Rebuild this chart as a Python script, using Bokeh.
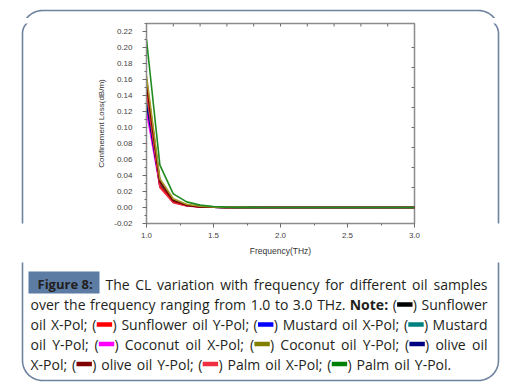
import numpy as np
from bokeh.plotting import figure
from bokeh.layouts import column, row
from bokeh.models import Range1d, SingleIntervalTicker, PrintfTickFormatter
from bokeh.core.properties import value
from bokeh.embed import file_html
from bokeh.resources import INLINE

# ---------------- data ----------------
freq = [1.0, 1.1, 1.2, 1.3, 1.4, 1.5, 1.6, 1.7, 1.8, 1.9, 2.0,
        2.1, 2.2, 2.3, 2.4, 2.5, 2.6, 2.7, 2.8, 2.9, 3.0]

coconut_x   = [0.120, 0.026, 0.0065, 0.0022, 0.0008, 0.0003, 0.0001, 0.0, 0.0, 0.0, 0.0, 0.0, 0.0, 0.0, 0.0, 0.0, 0.0, 0.0, 0.0, 0.0, 0.0]
mustard_x   = [0.135, 0.029, 0.0075, 0.0026, 0.0009, 0.0003, 0.0001, 0.0, 0.0, 0.0, 0.0, 0.0, 0.0, 0.0, 0.0, 0.0, 0.0, 0.0, 0.0, 0.0, 0.0]
olive_x     = [0.130, 0.028, 0.0070, 0.0024, 0.0009, 0.0003, 0.0001, 0.0, 0.0, 0.0, 0.0, 0.0, 0.0, 0.0, 0.0, 0.0, 0.0, 0.0, 0.0, 0.0, 0.0]
mustard_y   = [0.140, 0.030, 0.0080, 0.0028, 0.0010, 0.0004, 0.0001, 0.0, 0.0, 0.0, 0.0, 0.0, 0.0, 0.0, 0.0, 0.0, 0.0, 0.0, 0.0, 0.0, 0.0]
sunflower_y = [0.150, 0.027, 0.0070, 0.0025, 0.0008, 0.0003, 0.0001, 0.0, 0.0, 0.0, 0.0, 0.0, 0.0, 0.0, 0.0, 0.0, 0.0, 0.0, 0.0, 0.0, 0.0]
palm_x      = [0.145, 0.025, 0.0060, 0.0020, 0.0007, 0.0003, 0.0001, 0.0, 0.0, 0.0, 0.0, 0.0, 0.0, 0.0, 0.0, 0.0, 0.0, 0.0, 0.0, 0.0, 0.0]
sunflower_x = [0.160, 0.033, 0.0090, 0.0030, 0.0010, 0.0004, 0.0001, 0.0, 0.0, 0.0, 0.0, 0.0, 0.0, 0.0, 0.0, 0.0, 0.0, 0.0, 0.0, 0.0, 0.0]
olive_y     = [0.155, 0.032, 0.0080, 0.0030, 0.0010, 0.0004, 0.0001, 0.0, 0.0, 0.0, 0.0, 0.0, 0.0, 0.0, 0.0, 0.0, 0.0, 0.0, 0.0, 0.0, 0.0]
coconut_y   = [0.165, 0.036, 0.0110, 0.0040, 0.0015, 0.0006, 0.0002, 0.0001, 0.0, 0.0, 0.0, 0.0, 0.0, 0.0, 0.0, 0.0, 0.0, 0.0, 0.0, 0.0, 0.0]
palm_y      = [0.210, 0.053, 0.0170, 0.0070, 0.0030, 0.0012, 0.0005, 0.0002, 0.0001, 0.0, 0.0, 0.0, 0.0, 0.0, 0.0, 0.0, 0.0, 0.0, 0.0, 0.0, 0.0]

# draw order (bottom to top)
series_names = ["Coconut oil X-Pol", "Mustard oil X-Pol", "olive oil X-Pol", "Mustard oil Y-Pol",
                "Sunflower oil Y-Pol", "Palm oil X-Pol", "Sunflower oil X-Pol", "olive oil Y-Pol",
                "Coconut oil Y-Pol", "Palm oil Y-Pol"]
series_values = [coconut_x, mustard_x, olive_x, mustard_y, sunflower_y, palm_x, sunflower_x,
                 olive_y, coconut_y, palm_y]
series_colors = {"Sunflower oil X-Pol": "#000000", "Sunflower oil Y-Pol": "#ff0000",
                 "Mustard oil X-Pol": "#0000ff", "Mustard oil Y-Pol": "#008080",
                 "Coconut oil X-Pol": "#ff00ff", "Coconut oil Y-Pol": "#808000",
                 "olive oil X-Pol": "#000080", "olive oil Y-Pol": "#800000",
                 "Palm oil X-Pol": "#ee3040", "Palm oil Y-Pol": "#008000"}
chart_colors = dict(series_colors)
chart_colors["Coconut oil Y-Pol"] = "#a89a28"
chart_colors["Palm oil Y-Pol"] = "#1f8a1f"

top_ticks = [1.2, 1.4, 1.6, 1.8, 2.0, 2.2, 2.4, 2.6, 2.8]
right_ticks = [0.0, 0.025, 0.05, 0.075, 0.1, 0.125, 0.15, 0.175, 0.2]

x_label = "Frequency(THz)"
y_label = "Confinement Loss(dB/m)"

# caption: ("w", word) plain, ("b", word) bold, ("d", series) colour key "(▬)"
caption_title = "Figure 8:"
caption_lines = [
    [("w", w) for w in "The CL variation with frequency for different oil samples".split()],
    [("w", w) for w in "over the frequency ranging from 1.0 to 3.0 THz.".split()]
    + [("b", "Note:"), ("d", "Sunflower oil X-Pol"), ("w", "Sunflower")],
    [("w", "oil"), ("w", "X-Pol;"), ("d", "Sunflower oil Y-Pol"), ("w", "Sunflower"), ("w", "oil"),
     ("w", "Y-Pol;"), ("d", "Mustard oil X-Pol"), ("w", "Mustard"), ("w", "oil"), ("w", "X-Pol;"),
     ("d", "Mustard oil Y-Pol"), ("w", "Mustard")],
    [("w", "oil"), ("w", "Y-Pol;"), ("d", "Coconut oil X-Pol"), ("w", "Coconut"), ("w", "oil"),
     ("w", "X-Pol;"), ("d", "Coconut oil Y-Pol"), ("w", "Coconut"), ("w", "oil"), ("w", "Y-Pol;"),
     ("d", "olive oil X-Pol"), ("w", "olive"), ("w", "oil")],
    [("w", "X-Pol;"), ("d", "olive oil Y-Pol"), ("w", "olive"), ("w", "oil"), ("w", "Y-Pol;"),
     ("d", "Palm oil X-Pol"), ("w", "Palm"), ("w", "oil"), ("w", "X-Pol;"),
     ("d", "Palm oil Y-Pol"), ("w", "Palm"), ("w", "oil"), ("w", "Y-Pol.")],
]

BORDER = "#6f83a0"
SVG = dict(output_backend="svg", toolbar_location=None)


def rounded_rect(x0, y0, x1, y1, r, n=16):
    xs, ys = [], []
    for cx, cy, a0, a1 in [(x1 - r, y0 + r, -90, 0), (x1 - r, y1 - r, 0, 90),
                           (x0 + r, y1 - r, 90, 180), (x0 + r, y0 + r, 180, 270)]:
        a = np.radians(np.linspace(a0, a1, n))
        xs += list(cx + r * np.cos(a))
        ys += list(cy + r * np.sin(a))
    xs.append(xs[0])
    ys.append(ys[0])
    return xs, ys


BX, BY = rounded_rect(22, 10, 498, 380, 20)


def deco(x0, y0, w, h):
    f = figure(width=w, height=h, x_range=Range1d(x0, x0 + w), y_range=Range1d(y0 + h, y0),
               x_axis_type=None, y_axis_type=None, min_border=0, **SVG)
    f.outline_line_color = None
    f.background_fill_color = "white"
    f.border_fill_color = "white"
    f.line(BX, BY, line_color=BORDER, line_width=1.6)
    return f


# ---------------- chart ----------------
XR = Range1d(1.0, 3.0)
YR = Range1d(-0.02, 0.23)
FRAME_W, FRAME_H = 268, 200
p = figure(width=350, height=244, x_range=XR, y_range=YR,
           min_border_left=56, min_border_right=26, min_border_top=5, min_border_bottom=39, **SVG)
p.background_fill_color = "white"
p.border_fill_color = "white"
p.outline_line_color = "#8c8c8c"
p.outline_line_width = 1.5
p.grid.visible = False

p.xaxis.ticker = SingleIntervalTicker(interval=0.5, num_minor_ticks=2)
p.yaxis.ticker = SingleIntervalTicker(interval=0.02, num_minor_ticks=2)
p.xaxis.formatter = PrintfTickFormatter(format="%.1f")
p.yaxis.formatter = PrintfTickFormatter(format="%.2f")
for ax in (p.xaxis[0], p.yaxis[0]):
    ax.axis_line_color = "#8c8c8c"
    ax.major_tick_line_color = "#6c6c6c"
    ax.minor_tick_line_color = "#6c6c6c"
    ax.major_tick_in = 0
    ax.major_tick_out = 4
    ax.minor_tick_in = 0
    ax.minor_tick_out = 2
    ax.major_label_text_font = "Liberation Sans"
    ax.major_label_text_font_size = "8px"
    ax.major_label_text_color = "#444444"
    ax.axis_label_text_font = "Liberation Sans"
    ax.axis_label_text_font_style = "normal"
    ax.axis_label_text_color = "#333333"
p.xaxis.axis_label = x_label
p.yaxis.axis_label = y_label
p.xaxis.axis_label_text_font_size = "8.5px"
p.yaxis.axis_label_text_font_size = "8px"
p.xaxis.major_label_standoff = 5
p.yaxis.major_label_standoff = 10
p.xaxis.axis_label_standoff = 5
p.yaxis.axis_label_standoff = 5

# mirrored inward ticks on the top and right frame edges (3 px long)
tick_dy = 3 * (YR.end - YR.start) / FRAME_H
tick_dx = 3 * (XR.end - XR.start) / FRAME_W
p.segment(x0=top_ticks, y0=[YR.end] * len(top_ticks), x1=top_ticks,
          y1=[YR.end - tick_dy] * len(top_ticks), line_color="#6c6c6c", line_width=1)
p.segment(x0=[XR.end] * len(right_ticks), y0=right_ticks,
          x1=[XR.end - tick_dx] * len(right_ticks), y1=right_ticks,
          line_color="#6c6c6c", line_width=1)

for name, vals in zip(series_names, series_values):
    p.line(freq, vals, line_color=chart_colors[name], line_width=1.6)

# ---------------- decoration strips ----------------
top_strip = deco(0, 0, 512, 18)
left_strip = deco(0, 18, 90, 244)
right_strip = deco(440, 18, 72, 244)
cap = deco(0, 262, 512, 130)

# ---------------- caption (justified like the source) ----------------
FONT = "Open Sans"
FS = 14.0
TXT = "#231f20"
EM = {" ": .26, "a": .556, "b": .613, "c": .476, "d": .613, "e": .561, "f": .339, "g": .548,
      "h": .614, "i": .253, "j": .253, "k": .525, "l": .253, "m": .93, "n": .614, "o": .604,
      "p": .613, "q": .613, "r": .408, "s": .477, "t": .353, "u": .614, "v": .501, "w": .778,
      "x": .524, "y": .502, "z": .477, "C": .633, "F": .537, "H": .725, "L": .519, "M": .875,
      "N": .783, "P": .599, "S": .547, "T": .538, "X": .57, "Y": .531, ".": .266, ":": .266,
      ";": .266, "-": .322, "(": .293, ")": .293}
for d in "0123456789":
    EM[d] = .572
PAREN = .293 * FS
DASH_W = 16.0
PLAIN_GAP = 5.0


def tw(text, bold=False):
    return sum(EM.get(c, .55) for c in text) * FS * (1.07 if bold else 1.0)


def tok_w(tok):
    kind, t = tok
    if kind == "d":
        return 2 * PAREN + DASH_W
    return tw(t, kind == "b")


texts = {("left", "normal"): ([], [], []), ("right", "normal"): ([], [], []),
         ("left", "bold"): ([], [], [])}
dashes = ([], [], [], [], [])


def put(x, y, t, align="left", style="normal"):
    xs, ys, ts = texts[(align, style)]
    xs.append(x)
    ys.append(y)
    ts.append(t)


cap.quad(left=[28], right=[99], top=[271], bottom=[293], fill_color="#5d7ca4", line_color=None)
cap.text(x=[37], y=[283.5], text=[caption_title], text_font=value(FONT),
         text_font_size=value("13px"), text_font_style="bold", text_baseline="middle",
         text_color=TXT)

line_y = [283.5, 304, 324, 343.5, 363.5]
line_x0 = [105, 30, 30, 30, 30]
line_x1 = 487
justified = [True, True, True, True, False]

for toks, y, x0, just in zip(caption_lines, line_y, line_x0, justified):
    widths = [tok_w(t) for t in toks]
    gap = (line_x1 - x0 - sum(widths)) / (len(toks) - 1) if just else PLAIN_GAP
    x = x0
    for i, (tok, w) in enumerate(zip(toks, widths)):
        kind, t = tok
        if kind == "d":
            put(x, y, "(")
            dashes[0].append(x + PAREN + 0.3)
            dashes[1].append(x + PAREN + DASH_W - 0.3)
            dashes[2].append(y - 2.2)
            dashes[3].append(y + 2.2)
            dashes[4].append(series_colors[t])
            put(x + PAREN + DASH_W, y, ")")
        elif just and i == len(toks) - 1:
            put(line_x1, y, t, align="right")
        else:
            put(x, y, t, style="bold" if kind == "b" else "normal")
        x += w + gap

cap.quad(left=dashes[0], right=dashes[1], top=dashes[2], bottom=dashes[3],
         fill_color=dashes[4], line_color=None)
for (align, style), (xs, ys, ts) in texts.items():
    cap.text(x=xs, y=ys, text=ts, text_font=value(FONT), text_font_size=value("14px"),
             text_font_style=style, text_align=align, text_baseline="middle", text_color=TXT)

layout = column(top_strip, row(left_strip, p, right_strip, spacing=0), cap, spacing=0)
open("out.html", "w").write(file_html(layout, INLINE))
